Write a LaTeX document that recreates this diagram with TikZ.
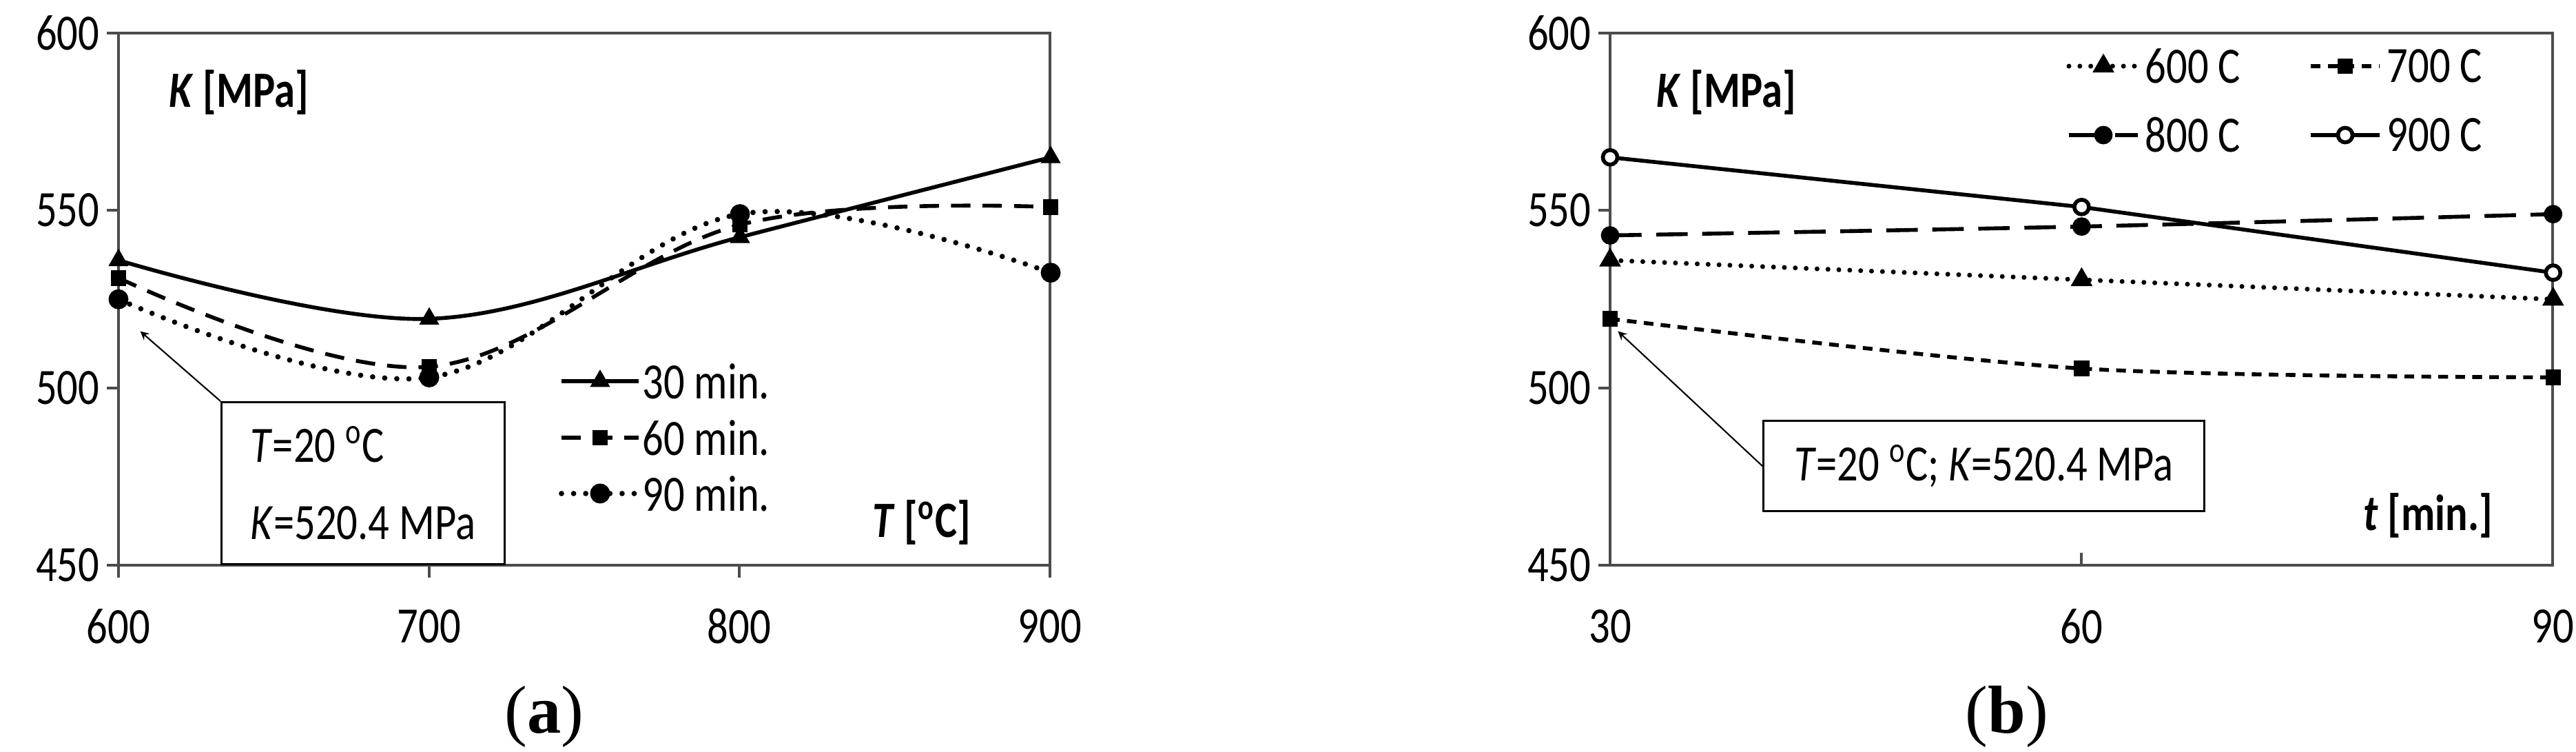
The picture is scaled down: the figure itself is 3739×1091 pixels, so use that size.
\documentclass[tikz,border=0pt]{standalone}
\usepackage{fontspec}
\setmainfont{Carlito}[FakeStretch=0.82]
\newfontfamily\capfont{Liberation Serif}
\usetikzlibrary{plotmarks}
\tikzset{
 axis/.style={line width=1pt,draw=black!70},
 lab/.style={font=\fontsize{21}{23}\selectfont, inner sep=0pt},
 s30/.style={line width=1.6pt, mark=triangle*, mark size=3.2pt, mark options={solid}},
 s60/.style={line width=1.6pt, dash pattern=on 8pt off 5pt, mark=square*, mark size=2.4pt, mark options={solid}},
 s90/.style={line width=2.2pt, line cap=round, dash pattern=on 0pt off 5pt, mark=*, mark size=3pt, mark options={solid}},
 d600/.style={line width=2pt, line cap=round, dash pattern=on 0pt off 4.5pt, mark=triangle*, mark size=3.2pt, mark options={solid}},
 d700/.style={line width=1.6pt, dash pattern=on 4pt off 3pt, mark=square*, mark size=2.4pt, mark options={solid}},
 d800/.style={line width=1.6pt, dash pattern=on 13pt off 6pt, mark=*, mark size=3pt, mark options={solid}},
 d900/.style={line width=1.6pt, mark=*, mark size=3pt, mark options={solid, fill=white}},
 callout/.style={draw, line width=0.8pt, inner sep=10pt, fill=white, font=\fontsize{21}{32}\selectfont, align=left},
 arr/.style={->, >=stealth, line width=0.6pt}
}
\begin{document}
\begin{tikzpicture}[x=0.01cm,y=-0.01cm]
\useasboundingbox (0,0) rectangle (3739,1091);
% ---------- panel (a)
\draw[axis] (172,48) -- (172,820) -- (1524,820) -- (1524,48) -- (172,48);
\foreach \v/\y in {600/48,550/305,500/563,450/820}{
  \draw[axis] (155,\y) -- (172,\y);
  \node[lab, anchor=east] (ya\v) at (145,\y) {\v};}
\foreach \v/\x in {600/172,700/623,800/1073,900/1524}{
  \draw[axis] (\x,820) -- (\x,838);
  \node[lab] (xa\v) at (\x,909) {\v};}
\begin{scope}[shift={(172,48)}, x=0.045067cm, y=-0.051467cm]
 \draw[s30] plot[smooth, tension=0.6] coordinates {(0,64) (100,80.5) (200,57.5) (300,35)};
 \draw[s60] plot[smooth, tension=0.6] coordinates {(0,69) (100,94) (200,54) (300,49)};
 \draw[s90] plot[smooth, tension=0.6] coordinates {(0,75) (100,97) (200,51) (300,67.5)};
 \coordinate (tipa) at (7,84);
\end{scope}
\node[lab, anchor=west] (Ka) at (245,134) {\textbf{\textit{K} [MPa]}};
\node[lab, anchor=west] (Ta) at (1266,758) {\textbf{\textit{T} [\textsuperscript{o}C]}};
\foreach \n/\y/\s in {30/553/s30,60/635/s60,90/716/s90}{
  \coordinate (la\n) at (815,\y); \coordinate (lb\n) at (927,\y);
  \draw[\s] (la\n) -- (lb\n);
  \draw[\s] plot[only marks] coordinates {(871,\y)};
  \node[lab, anchor=west] (lt\n) at (932,\y) {\n{} min.};}
\node[callout, anchor=north west, minimum width=4.11cm, minimum height=1.9cm] (boxa) at (320,582) {\textit{T}=20 \textsuperscript{o}C\\\textit{K}=520.4 MPa};
\draw[arr] (boxa.north west) -- (tipa);
\node[font=\capfont\fontsize{28}{30}\selectfont] (capa) at (790,1040) {(\textbf{a})};
% ---------- panel (b)
\draw[axis] (2337,48) -- (2337,820) -- (3705,820) -- (3705,48) -- (2337,48);
\foreach \v/\y in {600/48,550/305,500/563,450/820}{
  \draw[axis] (2320,\y) -- (2337,\y);
  \node[lab, anchor=east] (yb\v) at (2310,\y) {\v};}
\foreach \v/\x in {30/2337,60/3021,90/3705}{
  \draw[axis] (\x,820) -- (\x,802);
  \node[lab] (xb\v) at (\x,909) {\v};}
\begin{scope}[shift={(2337,48)}, x=0.228cm, y=-0.051467cm]
 \draw[d600] plot[smooth, tension=0.5] coordinates {(0,64) (30,69.5) (60,75)};
 \draw[d700] plot[smooth, tension=0.5] coordinates {(0,80.5) (30,94.5) (60,97)};
 \draw[d800] plot[smooth, tension=0.5] coordinates {(0,57) (30,54.5) (60,51)};
 \draw[d900] plot coordinates {(0,35) (30,49) (60,67.5)};
 \coordinate (tipb) at (0.5,84);
\end{scope}
\node[lab, anchor=west] (Kb) at (2404,134) {\textbf{\textit{K} [MPa]}};
\node[lab, anchor=west] (tb) at (3430,748) {\textbf{\textit{t} [min.]}};
\foreach \n/\x/\y/\s in {600/3003/96/d600,700/3354/96/d700,800/3003/196/d800,900/3354/196/d900}{
  \coordinate (ma\n) at (\x,\y); \coordinate (mb\n) at (\x+100,\y);
  \draw[\s] (ma\n) -- (mb\n);
  \draw[\s] plot[only marks] coordinates {(\x+50,\y)};
  \node[lab, anchor=west] (mt\n) at (\x+110,\y) {\n{} C};}
\node[callout, anchor=north west, minimum width=6.4cm, minimum height=0.92cm] (boxb) at (2558,609) {\textit{T}=20 \textsuperscript{o}C; \textit{K}=520.4 MPa};
\draw[arr] (boxb.west) -- (tipb);
\node[font=\capfont\fontsize{28}{30}\selectfont] (capb) at (2913,1040) {(\textbf{b})};
\end{tikzpicture}
\end{document}
